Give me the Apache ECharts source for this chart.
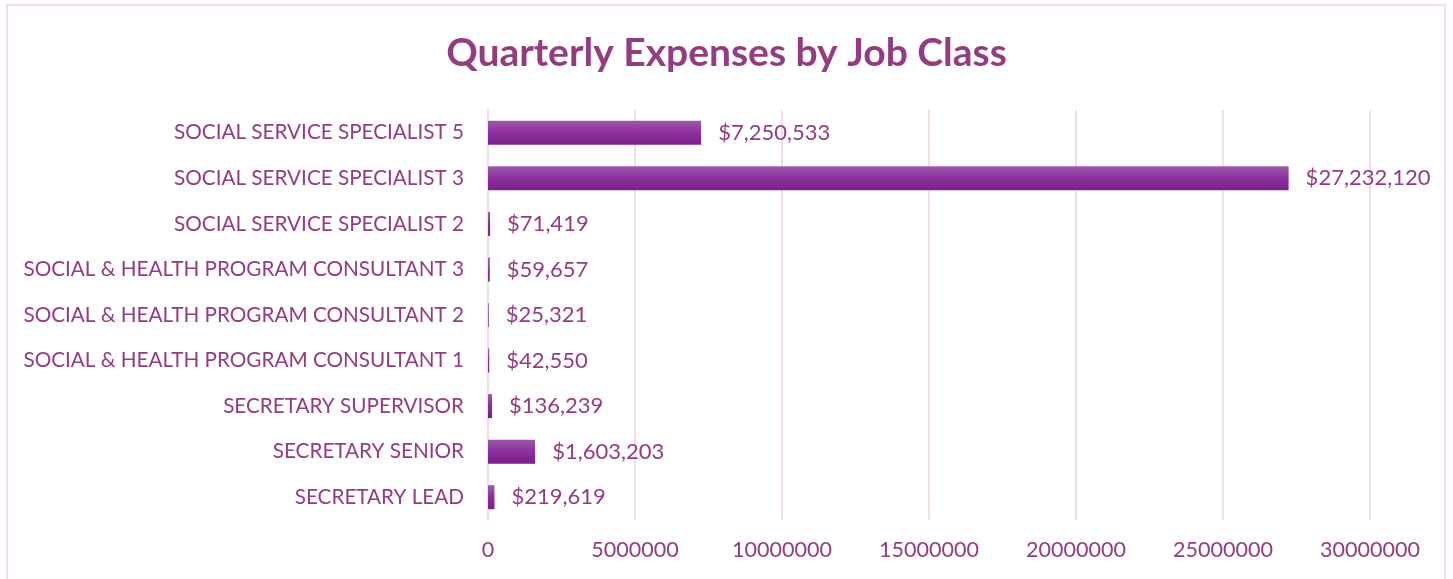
<!DOCTYPE html>
<html>
<head>
<meta charset="utf-8">
<script src="https://cdn.jsdelivr.net/npm/echarts@6/dist/echarts.min.js"></script>
<style>
html,body{margin:0;padding:0;background:#fff;}
#frame{position:absolute;left:6px;top:4px;width:1440px;height:590px;border:2px solid #f3dcef;box-sizing:border-box;}
#chart{position:absolute;left:0;top:0;width:1453px;height:579px;}
</style>
</head>
<body>
<div id="frame"></div>
<div id="chart"></div>
<script>
const title = 'Quarterly Expenses by Job Class';
const categories = [
  'SOCIAL SERVICE SPECIALIST 5',
  'SOCIAL SERVICE SPECIALIST 3',
  'SOCIAL SERVICE SPECIALIST 2',
  'SOCIAL & HEALTH PROGRAM CONSULTANT 3',
  'SOCIAL & HEALTH PROGRAM CONSULTANT 2',
  'SOCIAL & HEALTH PROGRAM CONSULTANT 1',
  'SECRETARY SUPERVISOR',
  'SECRETARY SENIOR',
  'SECRETARY LEAD'
];
const values = [7250533, 27232120, 71419, 59657, 25321, 42550, 136239, 1603203, 219619];
const axisMin = 0, axisMax = 30000000, axisInterval = 5000000;

const txt = '#943c80';
const chart = echarts.init(document.getElementById('chart'), null, {renderer:'canvas'});
chart.setOption({
  animation:false,
  title:{text:title,left:'center',top:29,textStyle:{color:'#943c80',fontFamily:'Lato',fontWeight:'bold',fontSize:39}},
  grid:{left:488,right:83,top:110,bottom:59,containLabel:false},
  xAxis:{type:'value',min:axisMin,max:axisMax,interval:axisInterval,
    axisLine:{show:false},axisTick:{show:false},
    splitLine:{show:true,lineStyle:{color:'#f0dcef',width:2}},
    axisLabel:{color:txt,fontFamily:'Lato',fontSize:21.5,margin:19,formatter:v=>String(v)}},
  yAxis:{type:'category',data:categories,inverse:true,
    axisLine:{show:true,lineStyle:{color:'#f0dcef',width:2}},axisTick:{show:false},
    axisLabel:{color:txt,fontFamily:'Lato',fontSize:20.7,margin:24}},
  series:[{type:'bar',data:values,barWidth:24,
    itemStyle:{color:new echarts.graphic.LinearGradient(0,0,0,1,[
      {offset:0,color:'#9b5ba8'},{offset:0.5,color:'#8a2f9c'},{offset:1,color:'#7c1f8c'}])},
    label:{show:true,position:'right',distance:17,color:txt,fontFamily:'Lato',fontSize:22,
      formatter:p=>'$'+p.value.toLocaleString('en-US')}
  }]
});
</script>
</body>
</html>
